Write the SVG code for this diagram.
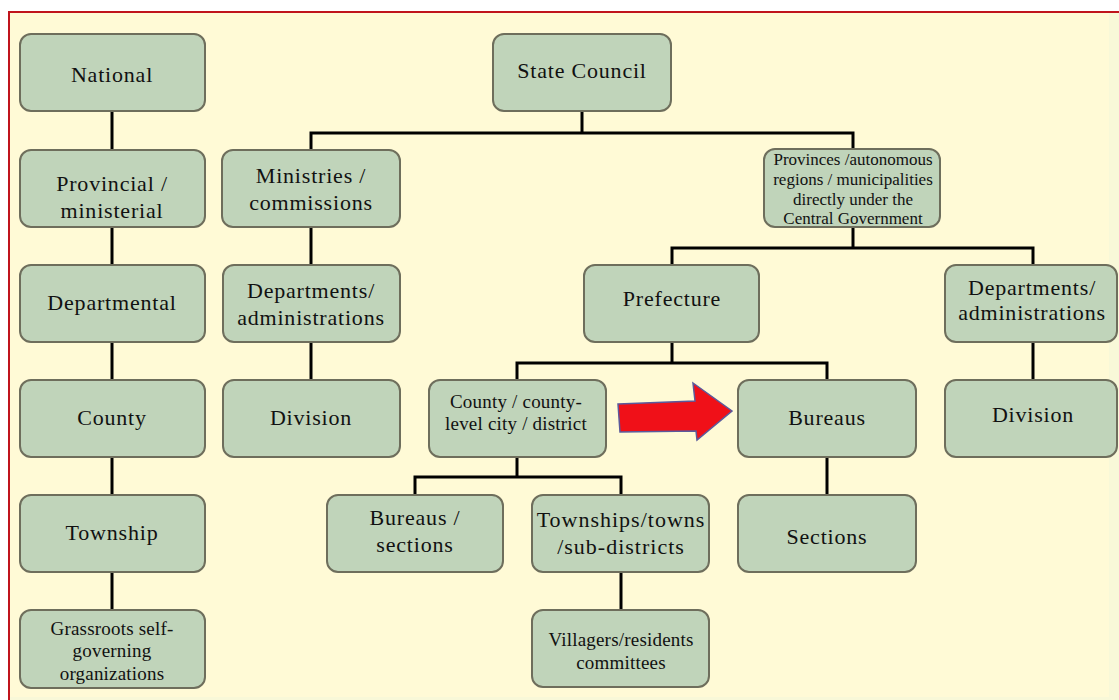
<svg xmlns="http://www.w3.org/2000/svg" width="1119" height="700" viewBox="0 0 1119 700">
<style>
.n{fill:#C0D4BA;stroke:#6E6E5C;stroke-width:2}
text{font-family:'Liberation Serif','DejaVu Serif','Times New Roman',serif;font-size:22px;letter-spacing:0.8px;fill:#111;text-anchor:middle}
.s{font-size:19px;letter-spacing:0.2px}
.x{font-size:17px;letter-spacing:0px}
.w{letter-spacing:1px}
.c{stroke:#000;stroke-width:3;fill:none}
</style>
<rect x="0" y="0" width="1119" height="700" fill="#FFFFFF"/>
<rect x="10" y="13" width="1109" height="687" fill="#F8F8D8"/>
<rect x="10" y="13" width="1099" height="684" fill="#FFFAD6"/>
<line x1="9" y1="12" x2="1119" y2="12" stroke="#C0141C" stroke-width="2"/>
<line x1="9" y1="11" x2="9" y2="700" stroke="#C0141C" stroke-width="2"/>
<g id="connectors">
<path class="c" d="M112 111V150M112 227V265M112 342V380M112 457V495M112 572V610"/>
<path class="c" d="M582 111V133M311 150V133H853V149"/>
<path class="c" d="M311 227V265M311 342V380"/>
<path class="c" d="M853 227V248M672 265V248H1033V265M1033 342V380"/>
<path class="c" d="M672 342V363M517 380V363H827V380"/>
<path class="c" d="M517 457V477M415 495V477H621V495M621 572V610M827 457V495"/>
</g>
<g id="national"><rect class="n" x="20" y="34" width="185" height="77" rx="11"/><text x="112" y="82">National</text></g>
<g id="provincial"><rect class="n" x="20" y="150" width="185" height="77" rx="11"/><text x="112" y="191">Provincial /</text><text x="112" y="218">ministerial</text></g>
<g id="departmental"><rect class="n" x="20" y="265" width="185" height="77" rx="11"/><text x="112" y="310">Departmental</text></g>
<g id="county-level"><rect class="n" x="20" y="380" width="185" height="77" rx="11"/><text x="112" y="425">County</text></g>
<g id="township"><rect class="n" x="20" y="495" width="185" height="77" rx="11"/><text x="112" y="540">Township</text></g>
<g id="grassroots"><rect class="n" x="20" y="610" width="185" height="78" rx="11"/><text class="s" x="112" y="635">Grassroots self-</text><text class="s" x="112" y="657">governing</text><text class="s" x="112" y="680">organizations</text></g>
<g id="state-council"><rect class="n" x="493" y="34" width="178" height="77" rx="11"/><text x="582" y="78">State Council</text></g>
<g id="ministries"><rect class="n" x="222" y="150" width="178" height="77" rx="11"/><text x="311" y="183">Ministries /</text><text x="311" y="210">commissions</text></g>
<g id="departments-left"><rect class="n" x="223" y="265" width="177" height="77" rx="11"/><text x="311" y="298">Departments/</text><text x="311" y="325">administrations</text></g>
<g id="division-left"><rect class="n" x="223" y="380" width="177" height="77" rx="11"/><text x="311" y="425">Division</text></g>
<g id="provinces"><rect class="n" x="764" y="149" width="176" height="78" rx="11"/><text class="x" x="853" y="165">Provinces /autonomous</text><text class="x" x="853" y="185">regions / municipalities</text><text class="x" x="853" y="205">directly under the</text><text class="x" x="853" y="224">Central Government</text></g>
<g id="prefecture"><rect class="n" x="584" y="265" width="175" height="77" rx="11"/><text x="672" y="306">Prefecture</text></g>
<g id="departments-right"><rect class="n" x="945" y="265" width="172" height="77" rx="11"/><text x="1032" y="295">Departments/</text><text x="1032" y="320">administrations</text></g>
<g id="county"><rect class="n" x="429" y="380" width="177" height="77" rx="11"/><text class="s" x="516" y="408">County / county-</text><text class="s" x="516" y="430">level city / district</text></g>
<g id="bureaus"><rect class="n" x="738" y="380" width="178" height="77" rx="11"/><text x="827" y="425">Bureaus</text></g>
<g id="division-right"><rect class="n" x="945" y="380" width="172" height="77" rx="11"/><text x="1033" y="422">Division</text></g>
<g id="bureaus-sections"><rect class="n" x="327" y="495" width="176" height="77" rx="11"/><text x="415" y="525">Bureaus /</text><text x="415" y="552">sections</text></g>
<g id="townships"><rect class="n" x="532" y="495" width="177" height="77" rx="11"/><text class="w" x="621" y="527">Townships/towns</text><text class="w" x="621" y="554">/sub-districts</text></g>
<g id="sections"><rect class="n" x="738" y="495" width="178" height="77" rx="11"/><text x="827" y="544">Sections</text></g>
<g id="villagers"><rect class="n" x="532" y="610" width="177" height="77" rx="11"/><text class="s" x="621" y="646">Villagers/residents</text><text class="s" x="621" y="669">committees</text></g>
<polygon points="618,404 695,401 693,383 732,411 697,440 696,431 620,432" fill="#F01018" stroke="#5A5A9C" stroke-width="1.5"/>
</svg>
